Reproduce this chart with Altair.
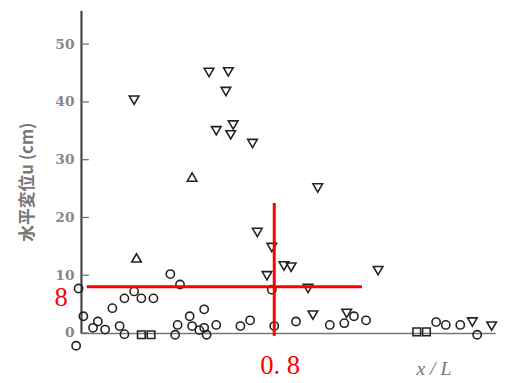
import altair as alt
import pandas as pd

# ---- data (x = x/L, y = horizontal displacement u in cm)
down_x = [0.22, 0.53, 0.61, 0.60, 0.56, 0.63, 0.62, 0.71, 0.98, 0.73, 0.79, 0.84, 0.87,
          0.77, 1.23, 0.94, 0.96, 1.10, 1.62, 1.70]
down_y = [40.3, 45.1, 45.2, 41.8, 35.0, 36.0, 34.3, 32.8, 25.1, 17.4, 14.8, 11.6, 11.4,
          9.9, 10.8, 7.7, 3.1, 3.4, 1.9, 1.2]

up_x = [0.23, 0.46]
up_y = [13.0, 27.0]

circle_x = [-0.01, 0.01, -0.02, 0.13, 0.18, 0.22, 0.25, 0.30, 0.05, 0.07, 0.10, 0.16, 0.18,
            0.37, 0.41, 0.39, 0.40, 0.45, 0.51, 0.46, 0.49, 0.51, 0.52, 0.56, 0.66, 0.70,
            0.79, 0.80, 0.89, 1.03, 1.09, 1.13, 1.18, 1.47, 1.51, 1.57, 1.64]
circle_y = [7.7, 2.9, -2.2, 4.3, 6.0, 7.2, 6.0, 6.0, 0.9, 2.0, 0.6, 1.2, -0.2,
            10.2, 8.4, -0.3, 1.4, 2.9, 4.1, 1.2, 0.5, 0.9, -0.3, 1.4, 1.2, 2.2,
            7.5, 1.2, 2.0, 1.4, 1.7, 2.9, 2.2, 1.9, 1.4, 1.4, -0.3]

square_x = [0.25, 0.29, 1.39, 1.43]
square_y = [-0.3, -0.3, 0.2, 0.2]

y_ticks = [0, 10, 20, 30, 40, 50]

# red reference lines
ref_y = 8
ref_x = 0.8
h_line_x = [0.024, 1.163]
v_line_y = [-0.5, 22.5]

X_DOM = [0, 1.714]
Y_DOM = [0, 55.8]

xs = alt.Scale(domain=X_DOM, nice=False, zero=False)
ys = alt.Scale(domain=Y_DOM, nice=False, zero=False)

x_axis = alt.Axis(labels=False, ticks=False, grid=False, title=None,
                  domainColor="#777", domainWidth=1.6)
y_axis = alt.Axis(values=y_ticks, tickSize=0, grid=False, title=None,
                  domainColor="#444", domainWidth=2.2,
                  labelFont="DejaVu Serif", labelFontWeight="bold",
                  labelFontSize=14, labelColor="#888", labelPadding=7)


def X(field="x"):
    return alt.X(f"{field}:Q", scale=xs, axis=x_axis)


def Y(field="y"):
    return alt.Y(f"{field}:Q", scale=ys, axis=y_axis)


def pts(xv, yv):
    return pd.DataFrame({"x": xv, "y": yv})


def layer(df, shape, size):
    return alt.Chart(df).mark_point(
        shape=shape, size=size, filled=False, color="#222", strokeWidth=1.6, opacity=1
    ).encode(x=X(), y=Y())


ticks = alt.Chart(pd.DataFrame({"y": y_ticks})).mark_rule(
    color="#666", strokeWidth=1.2
).encode(y=Y(), x=alt.value(0), x2=alt.value(8))

h_line = alt.Chart(pd.DataFrame({"x": [h_line_x[0]], "x2": [h_line_x[1]], "y": [ref_y]})).mark_rule(
    color="#ff0000", strokeWidth=3
).encode(x=X(), x2="x2:Q", y=Y())

v_line = alt.Chart(pd.DataFrame({"x": [ref_x], "y": [v_line_y[0]], "y2": [v_line_y[1]]})).mark_rule(
    color="#ff0000", strokeWidth=3
).encode(x=X(), y=Y(), y2="y2:Q")

lbl8 = alt.Chart(pd.DataFrame({"t": ["8"], "y": [ref_y]})).mark_text(
    font="Liberation Serif", fontSize=27, color="#ff0000", align="center", baseline="middle", dy=11
).encode(text="t:N", y=Y(), x=alt.value(-20))

lbl08 = alt.Chart(pd.DataFrame({"t": ["0. 8"], "x": [ref_x]})).mark_text(
    font="Liberation Serif", fontSize=27, color="#ff0000", align="center", baseline="middle", dx=6
).encode(text="t:N", x=X(), y=alt.value(361))

xlab = alt.Chart(pd.DataFrame({"t": ["x / L"]})).mark_text(
    font="Liberation Serif", fontStyle="italic", fontSize=20, color="#777",
    align="center", baseline="middle"
).encode(text="t:N", x=alt.value(358), y=alt.value(364))

ylab = alt.Chart(pd.DataFrame({"t": ["水平変位u (cm)"]})).mark_text(
    font="Noto Sans CJK JP", fontSize=17, fontWeight="bold", color="#777", angle=270,
    align="center", baseline="middle"
).encode(text="t:N", x=alt.value(-54), y=alt.value(174))

chart = alt.layer(
    ticks,
    layer(pts(circle_x, circle_y), "circle", 70),
    layer(pts(square_x, square_y), "square", 60),
    layer(pts(down_x, down_y), "triangle-down", 95),
    layer(pts(up_x, up_y), "triangle-up", 95),
    h_line,
    v_line,
    lbl8,
    lbl08,
    xlab,
    ylab,
).properties(
    width=420,
    height=327,
    autosize=alt.AutoSizeParams(type="none"),
    padding={"left": 74, "top": 0, "right": 4, "bottom": 45},
).configure_view(stroke=None)

chart.save("out.html", embed_options={"renderer": "svg", "actions": False})
